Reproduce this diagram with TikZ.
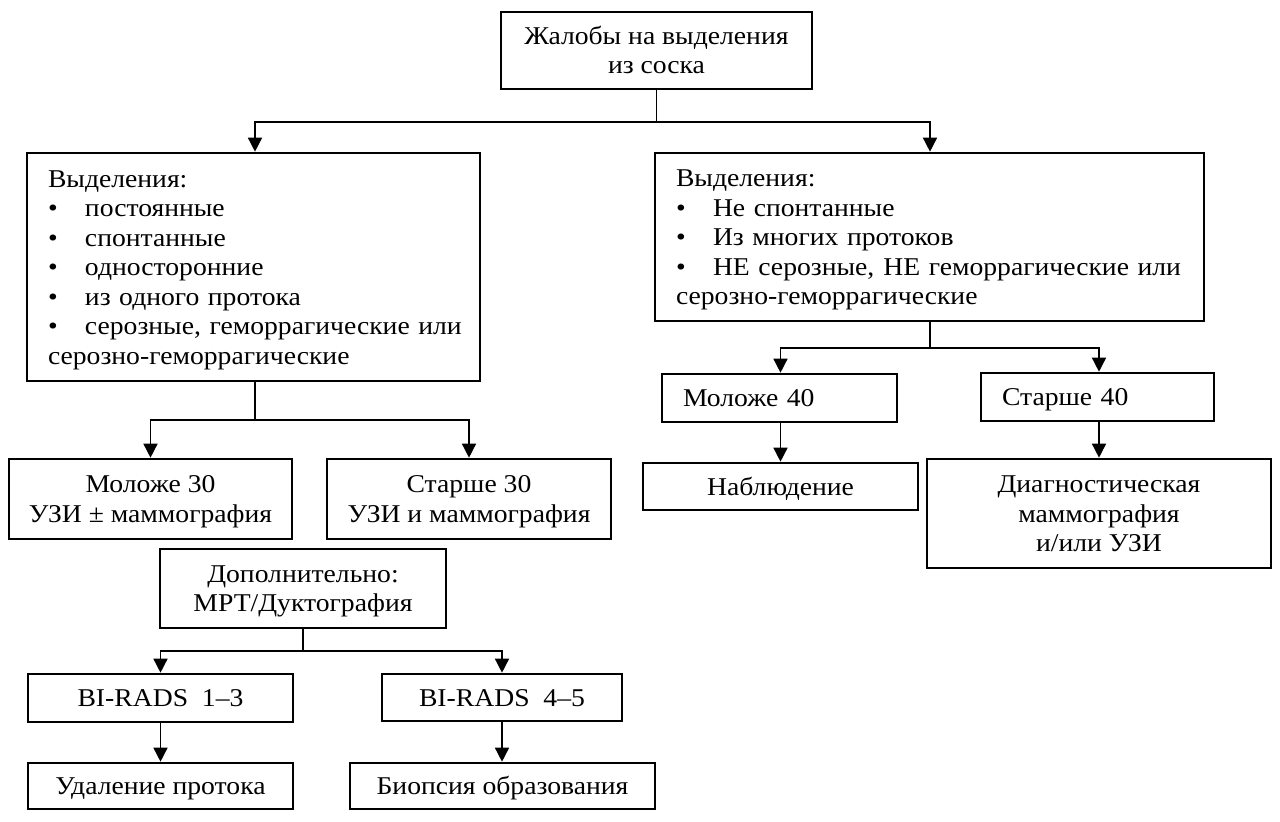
\documentclass[tikz,border=0pt]{standalone}
\usepackage{fontspec}
\setmainfont{Liberation Serif}[FakeStretch=1.08]
\usetikzlibrary{arrows.meta}
\newcommand\dfont{\fontsize{12.8}{14.75}\selectfont}
\newcommand\st{\rule[-2.8pt]{0pt}{14.2pt}}
\begin{document}
\begin{tikzpicture}[x=0.5pt,y=-0.5pt,
  box/.style={draw,line width=1.3pt,inner sep=0pt,align=center,font=\dfont},
  lbox/.style={draw,line width=1.3pt,inner ysep=0pt,inner xsep=10.5pt,align=left,font=\dfont},
  ln/.style={line width=0.75pt},
  arr/.style={line width=0.75pt,-{Triangle[width=7pt,length=7pt]}}]
\useasboundingbox (0,0) rectangle (1280,822);
\newcommand\bl[1]{\makebox[18.5pt][l]{\textbullet}#1}

\node[box,minimum width=155.5pt,minimum height=38.5pt] (top) at (656.5,50.5) {\st Жалобы на выделения\\\st из соска};

\node[lbox,text width=205.5pt,minimum height=114pt] (L) at (253.5,267)
 {\st Выделения:\\ \st\bl{постоянные}\\ \st\bl{спонтанные}\\ \st\bl{односторонние}\\ \st\bl{из одного протока}\\ \st\bl{\makebox[181pt][s]{серозные, геморрагические или}}\\ \st серозно-геморрагические};

\node[lbox,text width=253.5pt,minimum height=84pt] (R) at (929.5,237)
 {\st Выделения:\\ \st\bl{Не спонтанные}\\ \st\bl{Из многих протоков}\\ \st\mbox{\bl{НЕ серозные,\hspace{4.5pt}НЕ геморрагические или}}\\ \st серозно-геморрагические};

\node[box,minimum width=141.5pt,minimum height=40pt] (m30) at (150.5,499) {\st Моложе 30\\\st УЗИ ± маммография};
\node[box,minimum width=142pt,minimum height=40pt] (s30) at (469,499) {\st Старше 30\\\st УЗИ и маммография};

\node[lbox,text width=96.5pt,minimum height=24pt] (m40) at (779.5,398) {\st Моложе 40};
\node[lbox,text width=95.5pt,minimum height=24pt] (s40) at (1097.5,397) {\st Старше 40};

\node[box,minimum width=137.5pt,minimum height=23.5pt] (nabl) at (780.5,486.5) {\st Наблюдение};
\node[box,minimum width=172pt,minimum height=54.5pt] (diag) at (1099,513.5) {\st Диагностическая\\\st маммография\\\st и/или УЗИ};

\node[box,minimum width=143pt,minimum height=39.5pt] (dop) at (303,588.5) {\st Дополнительно:\\\st МРТ/Дуктография};
\node[box,minimum width=132.5pt,minimum height=24pt] (bi13) at (160.5,698) {\st BI-RADS\ \ 1–3};
\node[box,minimum width=120pt,minimum height=23.5pt] (bi45) at (502,697.5) {\st BI-RADS\ \ 4–5};
\node[box,minimum width=132.5pt,minimum height=23pt] (udal) at (160.5,786) {\st Удаление протока};
\node[box,minimum width=152.5pt,minimum height=23pt] (biop) at (502.5,786) {\st Биопсия образования};

\coordinate (j1) at (656.5,122);
\coordinate (lx) at (255,0);
\coordinate (rx) at (930,0);
\draw[ln] (top.south) -- (j1);
\draw[arr] (j1) -| (L.north -| lx);
\draw[arr] (j1) -| (R.north -| rx);

\coordinate (j2) at (255,420);
\draw[ln] (L.south -| lx) -- (j2);
\draw[arr] (j2) -| (m30.north);
\draw[arr] (j2) -| (s30.north);

\coordinate (j3) at (930,348);
\draw[ln] (R.south -| rx) -- (j3);
\draw[arr] (j3) -| (m40.north -| nabl.north);
\draw[arr] (j3) -| (s40.north -| diag.north);
\draw[arr] (m40.south -| nabl.north) -- (nabl.north);
\draw[arr] (s40.south -| diag.north) -- (diag.north);

\coordinate (j4) at (303,651);
\draw[ln] (dop.south) -- (j4);
\draw[arr] (j4) -| (bi13.north);
\draw[arr] (j4) -| (bi45.north);
\draw[arr] (bi13.south) -- (udal.north);
\draw[arr] (bi45.south) -- (bi45.south |- biop.north);
\end{tikzpicture}
\end{document}
